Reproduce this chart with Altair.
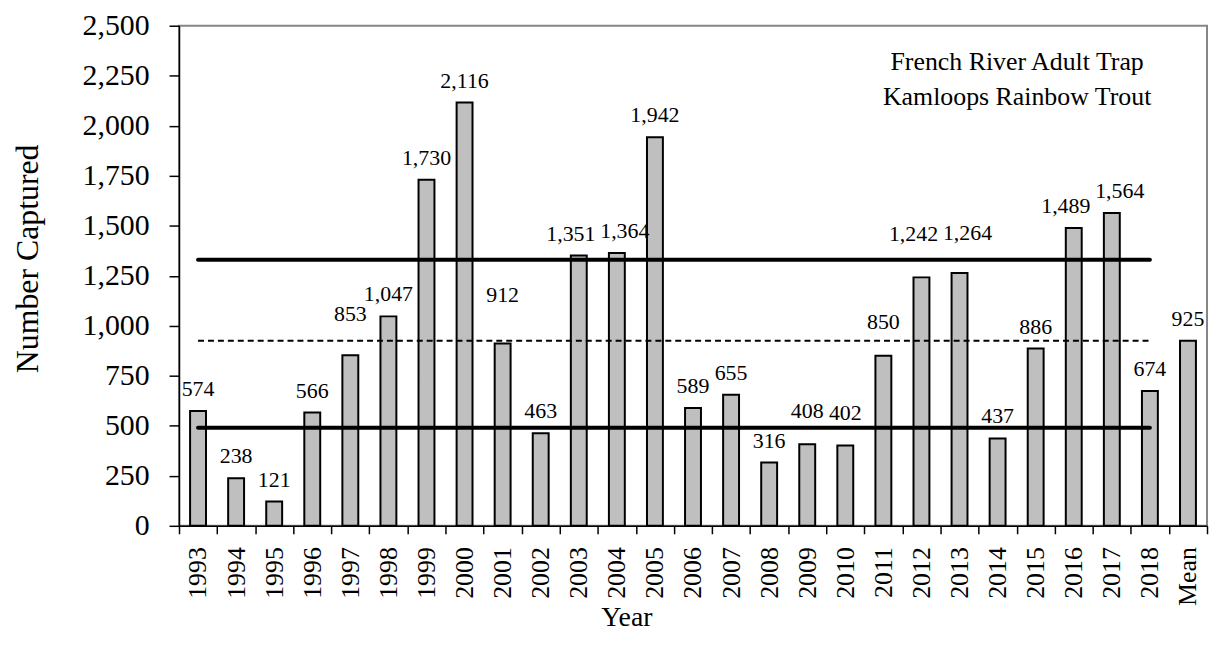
import altair as alt
import pandas as pd

# ---- data ----
categories = ["1993", "1994", "1995", "1996", "1997", "1998", "1999", "2000",
              "2001", "2002", "2003", "2004", "2005", "2006", "2007", "2008",
              "2009", "2010", "2011", "2012", "2013", "2014", "2015", "2016",
              "2017", "2018", "Mean"]
counts = [574, 238, 121, 566, 853, 1047, 1730, 2116, 912, 463, 1351, 1364,
          1942, 589, 655, 316, 408, 402, 850, 1242, 1264, 437, 886, 1489,
          1564, 674, 925]

ref_names = ["Upper", "Mean", "Lower"]
ref_values = [1330, 925, 490]
ref_span = ["1993", "2018"]

y_ticks = [0, 250, 500, 750, 1000, 1250, 1500, 1750, 2000, 2250, 2500]
note_lines = ["French River Adult Trap", "Kamloops Rainbow Trout"]

# hand-placed value labels: extra upward nudge (px) and sideways shifts
label_raise = {"1997": 19, "2001": 27, "2009": 11, "2010": 11,
               "2011": 12, "2012": 22, "2013": 18}
shift_left = ["2003", "2012", "2016"]
shift_right = ["2004", "2013", "2017"]

FONT = "Liberation Serif"
PLOT_W, PLOT_H = 1034, 503
Y_MAX = 2500

bars_df = pd.DataFrame({"cat": categories, "n": counts})
bars_df["label"] = [f"{v:,}" for v in counts]
bars_df["lift"] = [22 + label_raise.get(c, 0) for c in categories]

lines_df = pd.DataFrame([{"line": nm, "cat": c, "v": v}
                         for nm, v in zip(ref_names, ref_values) for c in ref_span])

x_enc = alt.X("cat:N", sort=categories,
              scale=alt.Scale(domain=categories, paddingInner=0, paddingOuter=0),
              axis=alt.Axis(title="Year", labelAngle=-90, tickBand="extent",
                            labelFontSize=26, labelPadding=13, tickSize=8,
                            titleFontSize=28, titleX=450, titleY=100,
                            titleAlign="center", titleBaseline="alphabetic"))
y_scale = alt.Scale(domain=[0, Y_MAX], nice=False)

bars = alt.Chart(bars_df).mark_bar(size=16, fill="#BFBFBF", stroke="black",
                                   strokeWidth=2).encode(
    x=x_enc,
    y=alt.Y("n:Q", scale=y_scale,
            axis=alt.Axis(title="Number Captured", values=y_ticks, format=",d",
                          labelFontSize=30, tickSize=10, labelPadding=20,
                          titleFontSize=32, titleX=-142, titleY=234,
                          titleAngle=270, titleAlign="center",
                          titleBaseline="alphabetic")),
)

solid = alt.Chart(lines_df).transform_filter(
    alt.datum.line != "Mean").mark_line(color="black", strokeWidth=4,
                                        strokeCap="round").encode(
    x=x_enc, y=alt.Y("v:Q", scale=y_scale), detail="line:N")

dashed = alt.Chart(lines_df).transform_filter(
    alt.datum.line == "Mean").mark_line(color="black", strokeWidth=2,
                                        strokeDash=[6, 4]).encode(
    x=x_enc, y=alt.Y("v:Q", scale=y_scale), detail="line:N")


def label_layer(filt, dx):
    return alt.Chart(bars_df).transform_filter(filt).transform_calculate(
        ly=f"datum.n + datum.lift * {Y_MAX} / {PLOT_H}"
    ).mark_text(font=FONT, fontSize=22, color="black", dx=dx,
                baseline="middle", align="center").encode(
        x=x_enc,
        y=alt.Y("ly:Q", scale=y_scale),
        text="label:N",
    )


labels_mid = label_layer(
    ~alt.FieldOneOfPredicate(field="cat", oneOf=shift_left + shift_right), 0)
labels_left = label_layer(alt.FieldOneOfPredicate(field="cat", oneOf=shift_left), -8)
labels_right = label_layer(alt.FieldOneOfPredicate(field="cat", oneOf=shift_right), 8)

note = alt.Chart(pd.DataFrame({"t": [0]})).mark_text(
    font=FONT, fontSize=26, color="black", align="center",
    baseline="alphabetic", lineHeight=35).encode(
    x=alt.value(843), y=alt.value(45), text=alt.value(note_lines))

chart = alt.layer(bars, solid, dashed, labels_mid, labels_left, labels_right,
                  note).properties(
    width=PLOT_W, height=PLOT_H,
    padding={"left": 172, "top": 16, "right": 2, "bottom": 109},
    autosize=alt.AutoSizeParams(type="none"),
).configure_view(
    stroke="#868686", strokeWidth=2
).configure_axis(
    grid=False, domainColor="black", domainWidth=1.5, tickColor="black",
    tickWidth=1.5, labelColor="black", titleColor="black", labelFont=FONT,
    titleFont=FONT, titleFontWeight="normal", labelOverlap=False,
)

chart.save("out.html", embed_options={"renderer": "svg", "actions": False})
